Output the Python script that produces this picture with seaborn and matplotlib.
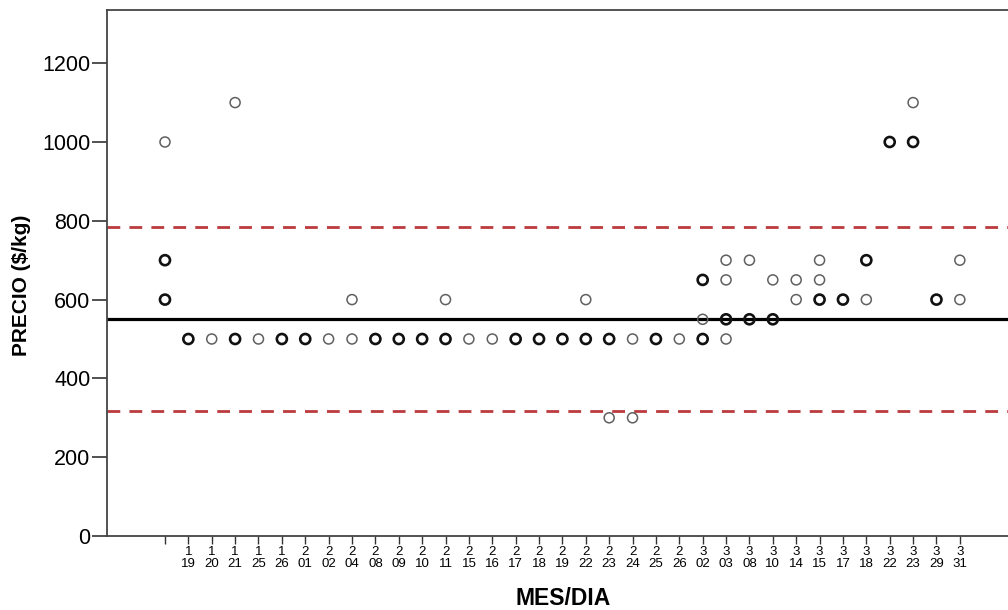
import matplotlib
matplotlib.use("Agg")
import matplotlib.pyplot as plt
import seaborn as sns
import pandas as pd

# Fechas de muestreo (mes / día); la primera observación no tiene fecha registrada
fechas = ["", "1/19", "1/20", "1/21", "1/25", "1/26", "2/01", "2/02", "2/04",
          "2/08", "2/09", "2/10", "2/11", "2/15", "2/16", "2/17", "2/18", "2/19",
          "2/22", "2/23", "2/24", "2/25", "2/26", "3/02", "3/03", "3/08", "3/10",
          "3/14", "3/15", "3/17", "3/18", "3/22", "3/23", "3/29", "3/31"]

# Observaciones de precio ($/kg) por fecha (valores repetidos = varias muestras)
precios = {
    "":     [1000, 700, 700, 600, 600],
    "1/19": [500, 500],
    "1/20": [500],
    "1/21": [1100, 500, 500],
    "1/25": [500],
    "1/26": [500, 500],
    "2/01": [500, 500],
    "2/02": [500],
    "2/04": [600, 500],
    "2/08": [500, 500],
    "2/09": [500, 500],
    "2/10": [500, 500],
    "2/11": [600, 500, 500],
    "2/15": [500],
    "2/16": [500],
    "2/17": [500, 500],
    "2/18": [500, 500],
    "2/19": [500, 500],
    "2/22": [600, 500, 500],
    "2/23": [500, 500, 300],
    "2/24": [500, 300],
    "2/25": [500, 500],
    "2/26": [500],
    "3/02": [650, 650, 550, 500, 500],
    "3/03": [700, 650, 550, 550, 500],
    "3/08": [700, 550, 550],
    "3/10": [650, 550, 550],
    "3/14": [650, 600],
    "3/15": [700, 650, 600, 600],
    "3/17": [600, 600],
    "3/18": [700, 700, 600],
    "3/22": [1000, 1000],
    "3/23": [1100, 1000, 1000],
    "3/29": [600, 600],
    "3/31": [700, 600],
}

media = 550
limite_sup = 784
limite_inf = 317

filas = [(f, p) for f in fechas for p in precios[f]]
df = pd.DataFrame(filas, columns=["fecha", "precio"])
df["fecha"] = pd.Categorical(df["fecha"], categories=fechas, ordered=True)
df["pos"] = df["fecha"].cat.codes
conteo = df.groupby(["pos", "precio"]).size().reset_index(name="n")
simples = conteo[conteo["n"] == 1]
multiples = conteo[conteo["n"] > 1]

sns.set_theme(style="white")
plt.rcParams["font.family"] = ["Liberation Sans", "DejaVu Sans"]
plt.rcParams.update({"text.color": "black", "axes.labelcolor": "black",
                     "xtick.color": "black", "ytick.color": "black"})

fig = plt.figure(figsize=(10.08, 6.10), dpi=100)
ax = fig.add_axes([107 / 1008, 1 - 536 / 610, 1 - 107 / 1008, (536 - 10) / 610])

# Líneas de referencia: media y límites
ax.axhline(media, color="black", lw=2.3, zorder=1)
for lim in (limite_sup, limite_inf):
    ax.axhline(lim, color="#bb3b3f", lw=2.0, dashes=(4.6, 3.3), zorder=1)

sns.scatterplot(data=simples, x="pos", y="precio", ax=ax, marker="o", s=52,
                facecolor="none", edgecolor="#606060", linewidth=1.1, zorder=3,
                legend=False)
sns.scatterplot(data=multiples, x="pos", y="precio", ax=ax, marker="o", s=52,
                facecolor="none", edgecolor="#111111", linewidth=1.9, zorder=3,
                legend=False)

ax.set_xlim(-2.48, 36.06)
ax.set_ylim(0, 1335)
ax.set_yticks([0, 200, 400, 600, 800, 1000, 1200])
ax.set_xticks(range(len(fechas)))
ax.set_xticklabels([f.replace("/", "\n") for f in fechas], fontsize=9.5,
                   linespacing=1.0)
ax.tick_params(axis="y", labelsize=15.5, length=11, width=1.2, color="#333333",
               direction="out", left=True, pad=1)
ax.tick_params(axis="x", length=6, width=1.0, color="#333333",
               direction="out", bottom=True, pad=1)

for lado in ("left", "top", "bottom"):
    ax.spines[lado].set_visible(True)
    ax.spines[lado].set_color("#444444")
    ax.spines[lado].set_linewidth(1.3)
ax.spines["right"].set_visible(False)

ax.set_xlabel("MES/DIA", fontsize=16.5, fontweight="bold")
ax.xaxis.label.set_va("baseline")
ax.xaxis.set_label_coords(0.506, -(605 - 536) / 526)
ax.set_ylabel("PRECIO ($/kg)", fontsize=15, fontweight="bold", labelpad=6)
ax.yaxis.set_label_coords(-0.084, 0.477)

fig.savefig("out.png", dpi=100, facecolor="white")
